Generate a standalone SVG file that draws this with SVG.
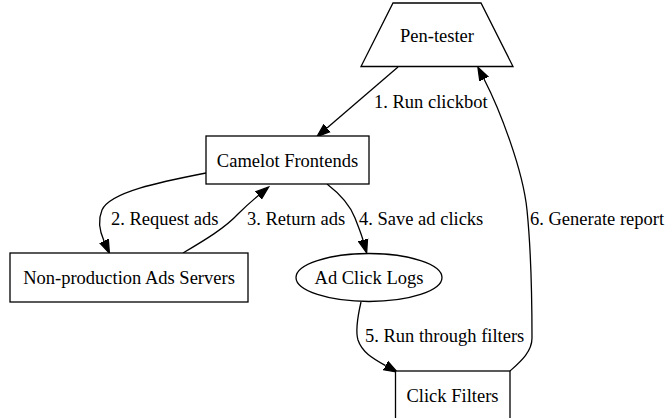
<svg xmlns="http://www.w3.org/2000/svg" width="666" height="418" viewBox="0 0 666 418">
<style>
  .node { fill: #ffffff; stroke: #000000; stroke-width: 1.3; }
  .edge { fill: none; stroke: #000000; stroke-width: 1.3; }
  text { font-family: "Liberation Serif", "Times New Roman", serif; font-size: 18.5px; fill: #000000; }
  .c { text-anchor: middle; }
</style>
<defs>
  <marker id="arrow" markerUnits="userSpaceOnUse" markerWidth="15" markerHeight="12" viewBox="0 -6 15 12" refX="0" refY="0" orient="auto">
    <path d="M0,-4.7 L13.3,0 L0,4.7 z" fill="#000000" stroke="#000000" stroke-width="1.3"/>
  </marker>
</defs>
<rect width="666" height="418" fill="#ffffff"/>
<g id="edges">
  <path class="edge" d="M398,67 L327,128" marker-end="url(#arrow)"/>
  <path class="edge" d="M206,173 C 160,182 110,192 102,210 C 97,222 100,232 104,241" marker-end="url(#arrow)"/>
  <path class="edge" d="M183,253 C 205,240 225,228 238,214 C 246,206 253,200 258.4,195.5" marker-end="url(#arrow)"/>
  <path class="edge" d="M327,184 C 340,194 350,205 355,218 C 358,226 361,233 363,240" marker-end="url(#arrow)"/>
  <path class="edge" d="M361,302 C 358,315 355,330 358,340 C 362,352 372,358 385.6,365.6" marker-end="url(#arrow)"/>
  <path class="edge" d="M510,371 C 520,362 532,352 532,338 C 532,300 531,250 527,210 C 523,170 500,110 484,79" marker-end="url(#arrow)"/>
  <text x="374" y="108">1. Run clickbot</text>
  <text x="111" y="224.5">2. Request ads</text>
  <text x="247" y="224.5">3. Return ads</text>
  <text x="359" y="224.5">4. Save ad clicks</text>
  <text x="365" y="341.5">5. Run through filters</text>
  <text x="530" y="225">6. Generate report</text>
</g>
<g id="pen-tester">
  <polygon class="node" points="393,3 481,3 513,66.5 361,66.5"/>
  <text class="c" x="437" y="41.5">Pen-tester</text>
</g>
<g id="camelot-frontends">
  <rect class="node" x="206" y="136" width="163" height="48"/>
  <text class="c" x="287.5" y="166.5">Camelot Frontends</text>
</g>
<g id="non-production-ads-servers">
  <rect class="node" x="10" y="253" width="238" height="49"/>
  <text class="c" x="129" y="284">Non-production Ads Servers</text>
</g>
<g id="ad-click-logs">
  <ellipse class="node" cx="369" cy="277.5" rx="73" ry="24"/>
  <text class="c" x="369" y="284">Ad Click Logs</text>
</g>
<g id="click-filters">
  <rect class="node" x="395.5" y="371" width="114.5" height="48"/>
  <text class="c" x="452.5" y="401.5">Click Filters</text>
</g>
</svg>
